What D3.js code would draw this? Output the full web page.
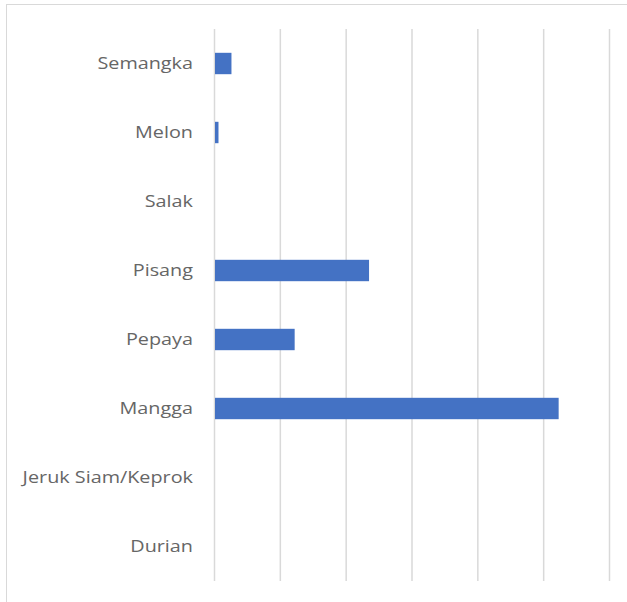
<!DOCTYPE html>
<html>
<head>
<meta charset="utf-8">
<script src="https://cdn.jsdelivr.net/npm/d3@7"></script>
<style>
  html, body { margin: 0; padding: 0; background: #fff; }
  svg { display: block; }
</style>
</head>
<body>
<svg id="chart" width="627" height="602"></svg>
<script>
const categories = ["Semangka", "Melon", "Salak", "Pisang", "Pepaya", "Mangga", "Jeruk Siam/Keprok", "Durian"];
const values = [2500, 530, 0, 23400, 12100, 52200, 0, 0];
const tickValues = [0, 10000, 20000, 30000, 40000, 50000, 60000];

const svg = d3.select("#chart");

svg.append("rect")
  .attr("x", 6.5).attr("y", 4.5)
  .attr("width", 700).attr("height", 700)
  .attr("fill", "#fff").attr("stroke", "#d9d9d9").attr("stroke-width", 1);

const x = d3.scaleLinear().domain([0, 60000]).range([214.5, 609.5]);
const y = d3.scaleBand().domain(categories).range([29, 581]).paddingInner(0.69).paddingOuter(0.345);

// gridlines
svg.append("g")
  .selectAll("line")
  .data(tickValues)
  .join("line")
  .attr("x1", d => x(d)).attr("x2", d => x(d))
  .attr("y1", 29).attr("y2", 581)
  .attr("stroke", "#d9d9d9").attr("stroke-width", 1.5);

// bars
svg.append("g")
  .selectAll("rect")
  .data(categories.map((c, i) => ({ c, v: values[i] })))
  .join("rect")
  .attr("x", x(0) + 0.5)
  .attr("y", d => y(d.c))
  .attr("width", d => Math.max(0, x(d.v) - x(0)))
  .attr("height", y.bandwidth())
  .attr("fill", "#4472c4");

// category labels
svg.append("g")
  .selectAll("text")
  .data(categories)
  .join("text")
  .attr("transform", d => `translate(193,${y(d) + y.bandwidth() / 2}) scale(1.2,1)`)
  .attr("dy", "0.35em")
  .attr("text-anchor", "end")
  .attr("font-family", "'Open Sans', sans-serif")
  .attr("font-size", 16.5)
  .attr("fill", "#666666")
  .text(d => d);
</script>
</body>
</html>
